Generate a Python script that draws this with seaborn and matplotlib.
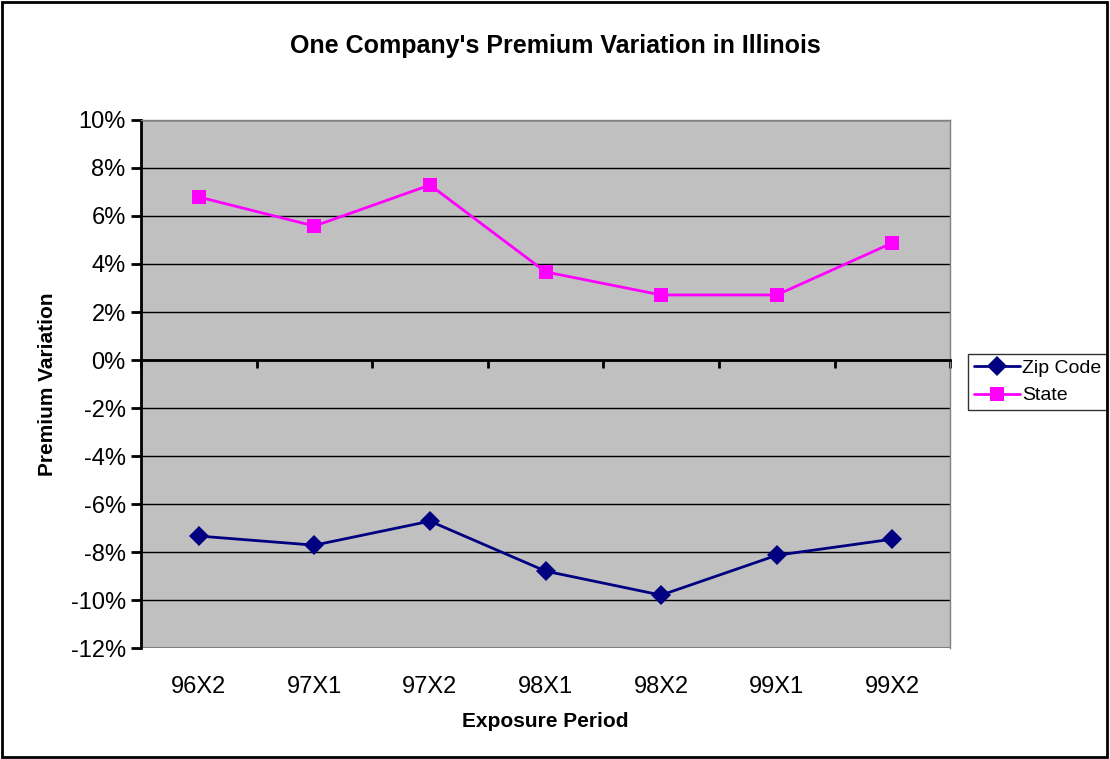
import pandas as pd
import matplotlib
matplotlib.use("Agg")
import matplotlib.pyplot as plt
import seaborn as sns
from matplotlib.ticker import FixedLocator, FuncFormatter

sns.set_style("white")
plt.rcParams['font.family'] = ['Liberation Sans', 'DejaVu Sans']
plt.rcParams['text.color'] = 'black'
plt.rcParams['axes.labelcolor'] = 'black'
plt.rcParams['xtick.color'] = 'black'
plt.rcParams['ytick.color'] = 'black'

# Data (percent)
periods = ['96X2', '97X1', '97X2', '98X1', '98X2', '99X1', '99X2']
zip_code = [-7.33, -7.71, -6.71, -8.79, -9.79, -8.13, -7.46]
state = [6.79, 5.58, 7.29, 3.67, 2.71, 2.71, 4.88]

df = pd.DataFrame({'Period': periods * 2,
                   'Variation': zip_code + state,
                   'Series': ['Zip Code'] * 7 + ['State'] * 7})

fig = plt.figure(figsize=(11.1, 7.59), dpi=100)
ax = fig.add_axes([0.127, 0.146, 0.729, 0.696])
ax.set_facecolor('#C0C0C0')

sns.lineplot(data=df, x='Period', y='Variation', hue='Series', style='Series',
             palette={'Zip Code': '#000080', 'State': '#FF00FF'},
             markers={'Zip Code': 'D', 'State': 's'}, dashes=False,
             markersize=10, linewidth=2, markeredgewidth=0, ax=ax)

ax.set_ylim(-12, 10)
ax.set_xlim(-0.5, 6.5)
ax.set_yticks(range(-12, 11, 2))
ax.yaxis.set_major_formatter(FuncFormatter(lambda v, p: '%d%%' % v))
ax.grid(axis='y', color='black', linewidth=1)
ax.set_axisbelow(True)
ax.tick_params(axis='y', direction='out', length=7, width=2, labelsize=17, left=True, pad=4)

# category axis drawn at zero with tick marks between categories
ax.spines['bottom'].set_position(('data', 0))
ax.spines['bottom'].set_linewidth(2)
ax.spines['bottom'].set_color('black')
ax.xaxis.set_minor_locator(FixedLocator([i + 0.5 for i in range(-1, 7)]))
ax.tick_params(axis='x', which='minor', direction='out', length=6, width=2, bottom=True)
ax.tick_params(axis='x', which='major', length=0, labelbottom=False)
ax.set_xlabel('')

sec = ax.secondary_xaxis('bottom')
sec.set_xticks(range(len(periods)), labels=periods)
sec.tick_params(length=0, labelsize=17, pad=20)
sec.spines['bottom'].set_visible(False)
sec.set_xlabel('Exposure Period', fontsize=15, fontweight='bold', labelpad=10)

ax.spines['left'].set_linewidth(2)
ax.spines['left'].set_color('black')
for s in ['top', 'right']:
    ax.spines[s].set_color('#808080')
    ax.spines[s].set_linewidth(1)
ax.axhline(-12, color='#808080', linewidth=1.5)

ax.set_ylabel('Premium Variation', fontsize=15, fontweight='bold', labelpad=10)
fig.suptitle("One Company's Premium Variation in Illinois", fontsize=18,
             fontweight='bold', y=0.955)

handles, labels = ax.get_legend_handles_labels()
ax.legend(handles, labels, loc='upper left', bbox_to_anchor=(0.872, 0.534),
          bbox_transform=fig.transFigure, frameon=True, fancybox=False,
          edgecolor='black', fontsize=14, handlelength=2.4, borderpad=0.3,
          labelspacing=0.5, handletextpad=0.1, borderaxespad=0)
ax.get_legend().get_frame().set_linewidth(1)

# outer chart border
fig.patches.append(plt.Rectangle((0.002, 0.003), 0.995, 0.994, transform=fig.transFigure,
                                 fill=False, edgecolor='black', linewidth=2))

fig.savefig('out.png', dpi=100)
